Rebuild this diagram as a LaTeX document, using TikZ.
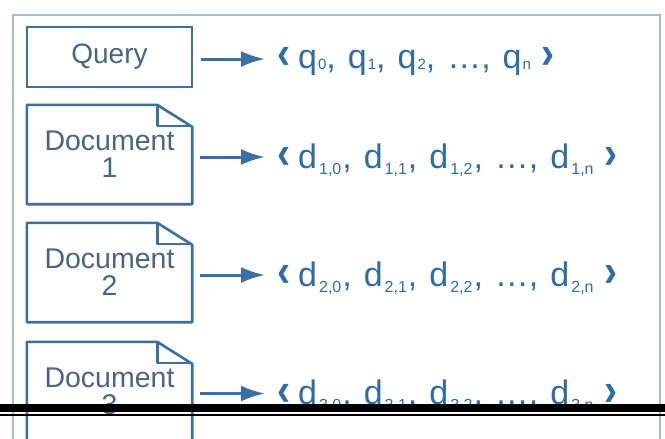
\documentclass[tikz,border=0pt]{standalone}
\usepackage{fontspec}
\setmainfont{Liberation Sans}
\usetikzlibrary{arrows.meta}
\definecolor{boxblue}{HTML}{3D6FA6}
\definecolor{labcol}{HTML}{4A6582}
\definecolor{veccol}{HTML}{2D6CA8}
\definecolor{framecol}{HTML}{A9BCCF}
\newcommand\qs[1]{\hspace{1pt}\raisebox{-0.04em}{\fontsize{15}{15}\selectfont #1}}
\newcommand\ds[1]{\hspace{2pt}\raisebox{-0.18em}{\fontsize{16}{16}\selectfont #1}\hspace{1pt}}
\newcommand\cm{,\hspace{12pt}}
\newcommand\chl{\raisebox{-0.02em}{\scalebox{1.15}[1.35]{\bfseries ‹}}\hspace{8pt}}
\newcommand\chr{\hspace{10pt}\raisebox{-0.02em}{\scalebox{1.15}[1.35]{\bfseries ›}}}
\tikzset{
  inbox/.style={draw=none, minimum width=165pt, minimum height=99pt, inner sep=0pt,
    text=labcol, align=center, font=\fontsize{28.5}{27}\selectfont},
  qbox/.style={draw=boxblue, line width=2.6pt, minimum width=165pt, minimum height=60pt, inner sep=0pt,
    text=labcol, font=\fontsize{28}{28}\selectfont},
  vec/.style={anchor=base west, inner sep=0pt, text=veccol, font=\fontsize{34}{34}\selectfont},
  conn/.style={draw=boxblue, line width=3pt, -{Latex[length=24pt,width=16pt]}, shorten <=8pt, shorten >=12pt},
  docline/.style={draw=boxblue, line width=2.6pt, line join=round},
}
\begin{document}
\begin{tikzpicture}[x=1pt,y=-1pt]
\clip (0,0) rectangle (665,439);
\fill[white] (0,0) rectangle (665,439);
\draw[framecol, line width=1.6pt] (13,15) rectangle (660,460);
% query
\node[qbox] (q) at (109.5,57) {Query};
\node[vec] (qv) at (277,68) {\chl q\qs{0}\cm q\qs{1}\cm q\qs{2}\cm \dots\cm q\qs{n}\chr};
\draw[conn] ([yshift=-2pt]q.east) -- ([yshift=-2pt]q.east -| qv.west);
% documents
\node[inbox] (d1) at (109.5,154.5) {Document\\1};
\node[inbox] (d2) at (109.5,272.5) {Document\\2};
\node[inbox] (d3) at (109.5,391.5) {Document\\3};
\foreach \d in {d1,d2,d3}{
  \draw[docline] (\d.north west) -- ([xshift=-35pt]\d.north east) -- ([yshift=-22pt]\d.north east)
     -- (\d.south east) -- (\d.south west) -- cycle;
  \draw[docline] ([xshift=-35pt]\d.north east) -- ([xshift=-35pt,yshift=-21pt]\d.north east)
     -- ([yshift=-21pt]\d.north east);
}
\node[vec] (v1) at (277,168) {\chl d\ds{1,0}\cm d\ds{1,1}\cm d\ds{1,2}\cm \dots\cm d\ds{1,n}\chr};
\node[vec] (v2) at (277,286) {\chl d\ds{2,0}\cm d\ds{2,1}\cm d\ds{2,2}\cm \dots\cm d\ds{2,n}\chr};
\node[vec] (v3) at (277,404.5) {\chl d\ds{3,0}\cm d\ds{3,1}\cm d\ds{3,2}\cm \dots\cm d\ds{3,n}\chr};
\draw[conn] ([yshift=-2.5pt]d1.east) -- ([yshift=-2.5pt]d1.east -| v1.west);
\draw[conn] ([yshift=-2.5pt]d2.east) -- ([yshift=-2.5pt]d2.east -| v2.west);
\draw[conn] ([yshift=-2pt]d3.east) -- ([yshift=-2pt]d3.east -| v3.west);
% black bars
\fill[black] (0,403.5) rectangle (665,411.5);
\fill[black] (0,413.5) rectangle (665,415.5);
\end{tikzpicture}
\end{document}
